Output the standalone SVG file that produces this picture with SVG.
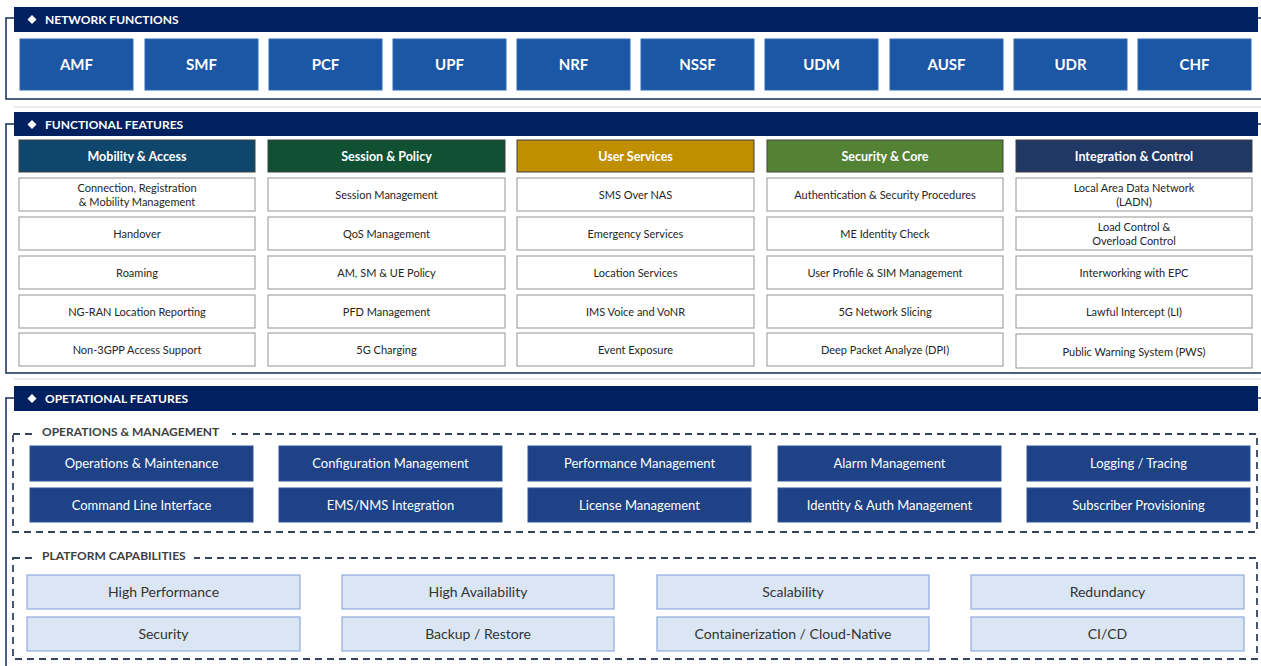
<svg xmlns="http://www.w3.org/2000/svg" width="1261" height="666" viewBox="0 0 1261 666">
<style>
text{font-family:Lato,"Open Sans","Liberation Sans",sans-serif}
.frame{fill:none;stroke:#1f3864;stroke-width:1.6}
.hdr{fill:#002060}
.hdrt{fill:#fff;font-size:12px;font-weight:bold}
.nf{fill:#1c57a5;stroke:#2e6bb8;stroke-width:1}
.nft{fill:#fff;font-size:15px;font-weight:bold;text-anchor:middle}
.ch{stroke:#404040;stroke-width:1}
.cht{fill:#fff;font-size:12.5px;font-weight:bold;text-anchor:middle}
.ff{fill:#fff;stroke:#a6a6a6;stroke-width:1.2}
.fft{fill:#262626;font-size:11px;text-anchor:middle}
.dash{fill:none;stroke:#34445e;stroke-width:1.8;stroke-dasharray:7,5}
.lbl{fill:#404040;font-size:12px;font-weight:bold}
.om{fill:#1e4285;stroke:#2f5597;stroke-width:1}
.omt{fill:#fff;font-size:13px;text-anchor:middle}
.pc{fill:#dae6f3;stroke:#8faadc;stroke-width:1.2}
.pct{fill:#333;font-size:14px;text-anchor:middle}
.sep{stroke:#e4e4e4;stroke-width:1.5}
.dia{fill:#fff}
</style>
<rect width="1261" height="666" fill="#fff"/>
<line class="sep" x1="14" y1="107" x2="1261" y2="107"/>
<line class="sep" x1="14" y1="379" x2="1261" y2="379"/>

<!-- Section 1 -->
<g id="sec-network-functions">
<rect class="frame" x="6" y="18" width="1270" height="81"/>
<rect class="hdr" x="14" y="7" width="1244" height="25"/>
<path class="dia" d="M32 15 L36.5 19.5 L32 24 L27.5 19.5 Z"/>
<text class="hdrt" x="45" y="24">NETWORK FUNCTIONS</text>
</g>
<g id="nf-amf"><rect class="nf" x="20" y="39" width="113" height="51"/><text class="nft" x="76.5" y="70">AMF</text></g>
<g id="nf-smf"><rect class="nf" x="145" y="39" width="113" height="51"/><text class="nft" x="201.5" y="70">SMF</text></g>
<g id="nf-pcf"><rect class="nf" x="269" y="39" width="113" height="51"/><text class="nft" x="325.5" y="70">PCF</text></g>
<g id="nf-upf"><rect class="nf" x="393" y="39" width="113" height="51"/><text class="nft" x="449.5" y="70">UPF</text></g>
<g id="nf-nrf"><rect class="nf" x="517" y="39" width="113" height="51"/><text class="nft" x="573.5" y="70">NRF</text></g>
<g id="nf-nssf"><rect class="nf" x="641" y="39" width="113" height="51"/><text class="nft" x="697.5" y="70">NSSF</text></g>
<g id="nf-udm"><rect class="nf" x="765" y="39" width="113" height="51"/><text class="nft" x="821.5" y="70">UDM</text></g>
<g id="nf-ausf"><rect class="nf" x="890" y="39" width="113" height="51"/><text class="nft" x="946.5" y="70">AUSF</text></g>
<g id="nf-udr"><rect class="nf" x="1014" y="39" width="113" height="51"/><text class="nft" x="1070.5" y="70">UDR</text></g>
<g id="nf-chf"><rect class="nf" x="1138" y="39" width="113" height="51"/><text class="nft" x="1194.5" y="70">CHF</text></g>

<!-- Section 2 -->
<g id="sec-functional-features">
<rect class="frame" x="6" y="124" width="1270" height="249"/>
<rect class="hdr" x="14" y="112" width="1244" height="24"/>
<path class="dia" d="M32 120 L36.5 124.5 L32 129 L27.5 124.5 Z"/>
<text class="hdrt" x="45" y="129">FUNCTIONAL FEATURES</text>
</g>

<g id="col-mobility">
<rect class="ch" x="19" y="140" width="236" height="32" fill="#0f476c"/>
<text class="cht" x="137" y="161">Mobility &amp; Access</text>
<rect class="ff" x="19" y="178" width="236" height="33"/><text class="fft" x="137" y="191.5">Connection, Registration</text><text class="fft" x="137" y="205.5">&amp; Mobility Management</text>
<rect class="ff" x="19" y="217" width="236" height="33"/><text class="fft" x="137" y="237.5">Handover</text>
<rect class="ff" x="19" y="256" width="236" height="33"/><text class="fft" x="137" y="276.5">Roaming</text>
<rect class="ff" x="19" y="295" width="236" height="33"/><text class="fft" x="137" y="315.5">NG-RAN Location Reporting</text>
<rect class="ff" x="19" y="333" width="236" height="33"/><text class="fft" x="137" y="353.5">Non-3GPP Access Support</text>
</g>

<g id="col-session">
<rect class="ch" x="268" y="140" width="237" height="32" fill="#0f5132"/>
<text class="cht" x="386.5" y="161">Session &amp; Policy</text>
<rect class="ff" x="268" y="178" width="237" height="33"/><text class="fft" x="386.5" y="198.5">Session Management</text>
<rect class="ff" x="268" y="217" width="237" height="33"/><text class="fft" x="386.5" y="237.5">QoS Management</text>
<rect class="ff" x="268" y="256" width="237" height="33"/><text class="fft" x="386.5" y="276.5">AM, SM &amp; UE Policy</text>
<rect class="ff" x="268" y="295" width="237" height="33"/><text class="fft" x="386.5" y="315.5">PFD Management</text>
<rect class="ff" x="268" y="333" width="237" height="33"/><text class="fft" x="386.5" y="353.5">5G Charging</text>
</g>

<g id="col-user">
<rect class="ch" x="517" y="140" width="237" height="32" fill="#bf8f00"/>
<text class="cht" x="635.5" y="161">User Services</text>
<rect class="ff" x="517" y="178" width="237" height="33"/><text class="fft" x="635.5" y="198.5">SMS Over NAS</text>
<rect class="ff" x="517" y="217" width="237" height="33"/><text class="fft" x="635.5" y="237.5">Emergency Services</text>
<rect class="ff" x="517" y="256" width="237" height="33"/><text class="fft" x="635.5" y="276.5">Location Services</text>
<rect class="ff" x="517" y="295" width="237" height="33"/><text class="fft" x="635.5" y="315.5">IMS Voice and VoNR</text>
<rect class="ff" x="517" y="333" width="237" height="33"/><text class="fft" x="635.5" y="353.5">Event Exposure</text>
</g>

<g id="col-security">
<rect class="ch" x="767" y="140" width="236" height="32" fill="#548235"/>
<text class="cht" x="885" y="161">Security &amp; Core</text>
<rect class="ff" x="767" y="178" width="236" height="33"/><text class="fft" x="885" y="198.5">Authentication &amp; Security Procedures</text>
<rect class="ff" x="767" y="217" width="236" height="33"/><text class="fft" x="885" y="237.5">ME Identity Check</text>
<rect class="ff" x="767" y="256" width="236" height="33"/><text class="fft" x="885" y="276.5">User Profile &amp; SIM Management</text>
<rect class="ff" x="767" y="295" width="236" height="33"/><text class="fft" x="885" y="315.5">5G Network Slicing</text>
<rect class="ff" x="767" y="333" width="236" height="33"/><text class="fft" x="885" y="353.5">Deep Packet Analyze (DPI)</text>
</g>

<g id="col-integration">
<rect class="ch" x="1016" y="140" width="236" height="32" fill="#1f3864"/>
<text class="cht" x="1134" y="161">Integration &amp; Control</text>
<rect class="ff" x="1016" y="178" width="236" height="33"/><text class="fft" x="1134" y="191.5">Local Area Data Network</text><text class="fft" x="1134" y="205.5">(LADN)</text>
<rect class="ff" x="1016" y="217" width="236" height="33"/><text class="fft" x="1134" y="230.5">Load Control &amp;</text><text class="fft" x="1134" y="244.5">Overload Control</text>
<rect class="ff" x="1016" y="256" width="236" height="33"/><text class="fft" x="1134" y="276.5">Interworking with EPC</text>
<rect class="ff" x="1016" y="295" width="236" height="33"/><text class="fft" x="1134" y="315.5">Lawful Intercept (LI)</text>
<rect class="ff" x="1016" y="334" width="236" height="34"/><text class="fft" x="1134" y="355.5">Public Warning System (PWS)</text>
</g>

<!-- Section 3 -->
<g id="sec-operational-features">
<rect class="frame" x="6" y="398" width="1270" height="280"/>
<rect class="hdr" x="14" y="386" width="1244" height="25"/>
<path class="dia" d="M32 394 L36.5 398.5 L32 403 L27.5 398.5 Z"/>
<text class="hdrt" x="45" y="403">OPETATIONAL FEATURES</text>
</g>

<g id="grp-om">
<rect class="dash" x="13" y="434" width="1244" height="98"/>
<rect x="34" y="425" width="198" height="16" fill="#fff"/>
<text class="lbl" x="42" y="436">OPERATIONS &amp; MANAGEMENT</text>
</g>
<g id="om-1"><rect class="om" x="30" y="446" width="223" height="35"/><text class="omt" x="141.5" y="468">Operations &amp; Maintenance</text></g>
<g id="om-2"><rect class="om" x="279" y="446" width="223" height="35"/><text class="omt" x="390.5" y="468">Configuration Management</text></g>
<g id="om-3"><rect class="om" x="528" y="446" width="223" height="35"/><text class="omt" x="639.5" y="468">Performance Management</text></g>
<g id="om-4"><rect class="om" x="778" y="446" width="223" height="35"/><text class="omt" x="889.5" y="468">Alarm Management</text></g>
<g id="om-5"><rect class="om" x="1027" y="446" width="223" height="35"/><text class="omt" x="1138.5" y="468">Logging / Tracing</text></g>
<g id="om-6"><rect class="om" x="30" y="488" width="223" height="34"/><text class="omt" x="141.5" y="509.5">Command Line Interface</text></g>
<g id="om-7"><rect class="om" x="279" y="488" width="223" height="34"/><text class="omt" x="390.5" y="509.5">EMS/NMS Integration</text></g>
<g id="om-8"><rect class="om" x="528" y="488" width="223" height="34"/><text class="omt" x="639.5" y="509.5">License Management</text></g>
<g id="om-9"><rect class="om" x="778" y="488" width="223" height="34"/><text class="omt" x="889.5" y="509.5">Identity &amp; Auth Management</text></g>
<g id="om-10"><rect class="om" x="1027" y="488" width="223" height="34"/><text class="omt" x="1138.5" y="509.5">Subscriber Provisioning</text></g>

<g id="grp-pc">
<rect class="dash" x="13" y="558" width="1244" height="101"/>
<rect x="34" y="549" width="160" height="16" fill="#fff"/>
<text class="lbl" x="42" y="560">PLATFORM CAPABILITIES</text>
</g>
<g id="pc-1"><rect class="pc" x="27" y="575" width="273" height="34"/><text class="pct" x="163.5" y="597">High Performance</text></g>
<g id="pc-2"><rect class="pc" x="342" y="575" width="272" height="34"/><text class="pct" x="478" y="597">High Availability</text></g>
<g id="pc-3"><rect class="pc" x="657" y="575" width="272" height="34"/><text class="pct" x="793" y="597">Scalability</text></g>
<g id="pc-4"><rect class="pc" x="971" y="575" width="273" height="34"/><text class="pct" x="1107.5" y="597">Redundancy</text></g>
<g id="pc-5"><rect class="pc" x="27" y="617" width="273" height="34"/><text class="pct" x="163.5" y="639">Security</text></g>
<g id="pc-6"><rect class="pc" x="342" y="617" width="272" height="34"/><text class="pct" x="478" y="639">Backup / Restore</text></g>
<g id="pc-7"><rect class="pc" x="657" y="617" width="272" height="34"/><text class="pct" x="793" y="639">Containerization / Cloud-Native</text></g>
<g id="pc-8"><rect class="pc" x="971" y="617" width="273" height="34"/><text class="pct" x="1107.5" y="639">CI/CD</text></g>
</svg>
